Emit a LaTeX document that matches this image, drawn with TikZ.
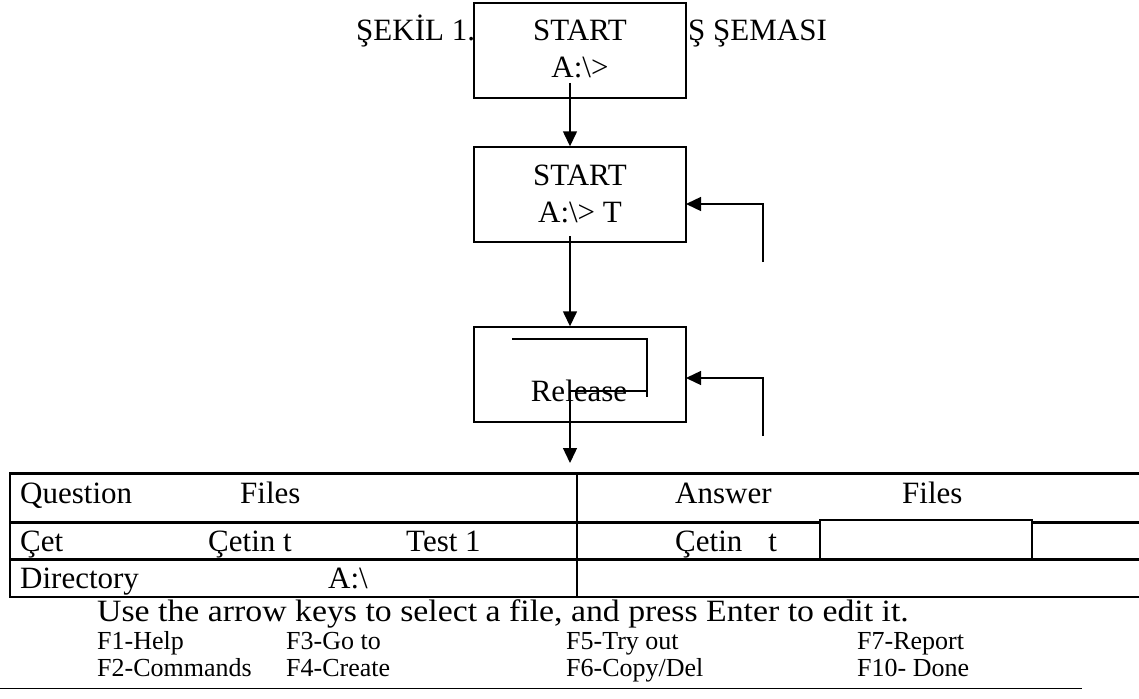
\documentclass[tikz,border=0pt]{standalone}
\usepackage{fontspec}
\setmainfont{Liberation Serif}
\usetikzlibrary{arrows.meta,calc}
\begin{document}
\begin{tikzpicture}[x=1pt,y=-1pt,
  box/.style={draw,line width=1.4pt,fill=white,minimum width=212pt,minimum height=95pt,inner sep=0pt},
  lbl/.style={font=\fontsize{31}{37}\selectfont,inner sep=0pt,anchor=base},
  tl/.style={font=\fontsize{31}{37}\selectfont,inner sep=0pt,anchor=base west},
  bl/.style={font=\fontsize{31}{37}\selectfont,inner sep=0pt,anchor=base west},
  fl/.style={font=\fontsize{26}{30}\selectfont,inner sep=0pt,anchor=base west},
  arr/.style={line width=1.4pt,-{Triangle[length=15pt,width=14pt]}},
  ln/.style={line width=1.4pt},
  tab/.style={line width=2.2pt}]
\useasboundingbox (0,0) rectangle (1139,698);
% title (partly hidden by the first box)
\node[tl] (ti1) at (356,41) {ŞEKİL 1.};
\node[tl] (ti2) at (688,41) {Ş ŞEMASI};
% boxes
\node[box] (b1) at (580,50.5) {};
\node[lbl] (s1) at (580,41) {START};
\node[lbl] (a1) at (580,78) {A:\textbackslash>};
\node[box] (b2) at (580,194.5) {};
\node[lbl] (s2) at (580,185) {START};
\node[lbl] (a2) at (580,222) {A:\textbackslash> T};
\node[box] (b3) at (580,374.5) {};
\node[lbl] (r3) at (579,401.5) {Release};
% connectors
\coordinate (p1) at (570,83);
\draw[arr] (p1) -- (p1 |- b2.north);
\coordinate (p2) at (570,236);
\draw[arr] (p2) -- (p2 |- b3.north);
\coordinate (f1) at (763,262);
\coordinate (f1t) at (686,204);
\draw[arr] (f1) |- (f1t);
\coordinate (f2) at (763,436);
\coordinate (f2t) at (686,378);
\draw[arr] (f2) |- (f2t);
% inner path of release box
\coordinate (q1) at (512,339);
\coordinate (q2) at (647,339);
\coordinate (q3) at (647,397);
\coordinate (q4) at (647,391);
\coordinate (q5) at (570,391);
\coordinate (q6) at (570,463);
\draw[ln] (q1) -- (q2) -- (q3);
\draw[ln] (q4) -- (q5);
\draw[arr] (q5) -- (q6);
% table
\draw[tab] (1139,473.5) -- (10,473.5) -- (10,597) -- (1139,597);
\draw[tab] (10,522.5) -- (1139,522.5);
\draw[tab] (10,559.5) -- (1139,559.5);
\draw[tab] (577,473.5) -- (577,597);
\draw[line width=1.2pt,fill=white] (820,520) rectangle (1032,558.5);
\node[tl] (c11) at (20,503) {Question};
\node[tl] (c12) at (240,503) {Files};
\node[tl] (c13) at (675,503) {Answer};
\node[tl] (c14) at (902,503) {Files};
\node[tl] (c21) at (20,551) {Çet};
\node[tl] (c22) at (208,551) {Çetin t};
\node[tl] (c23) at (406,551) {Test 1};
\node[tl] (c24) at (675,551) {Çetin\hspace{26pt}t};
\node[tl] (c31) at (20,588) {Directory};
\node[tl] (c32) at (328,588) {A:\textbackslash};
% footer
\node[bl] (u1) at (97,621) {\scalebox{1.09}[1]{Use the arrow keys to select a file, and press Enter to edit it.}};
\node[fl] (k1) at (97,649) {F1-Help};
\node[fl] (k3) at (286,649) {F3-Go to};
\node[fl] (k5) at (566,649) {F5-Try out};
\node[fl] (k7) at (857,649) {F7-Report};
\node[fl] (k2) at (97,676) {F2-Commands};
\node[fl] (k4) at (286,676) {F4-Create};
\node[fl] (k6) at (566,676) {F6-Copy/Del};
\node[fl] (k10) at (857,676) {F10- Done};
\coordinate (rl) at (0,688.5);
\coordinate (rr) at (1082,688.5);
\draw[line width=1.4pt] (rl) -- (rr);
\end{tikzpicture}
\end{document}
